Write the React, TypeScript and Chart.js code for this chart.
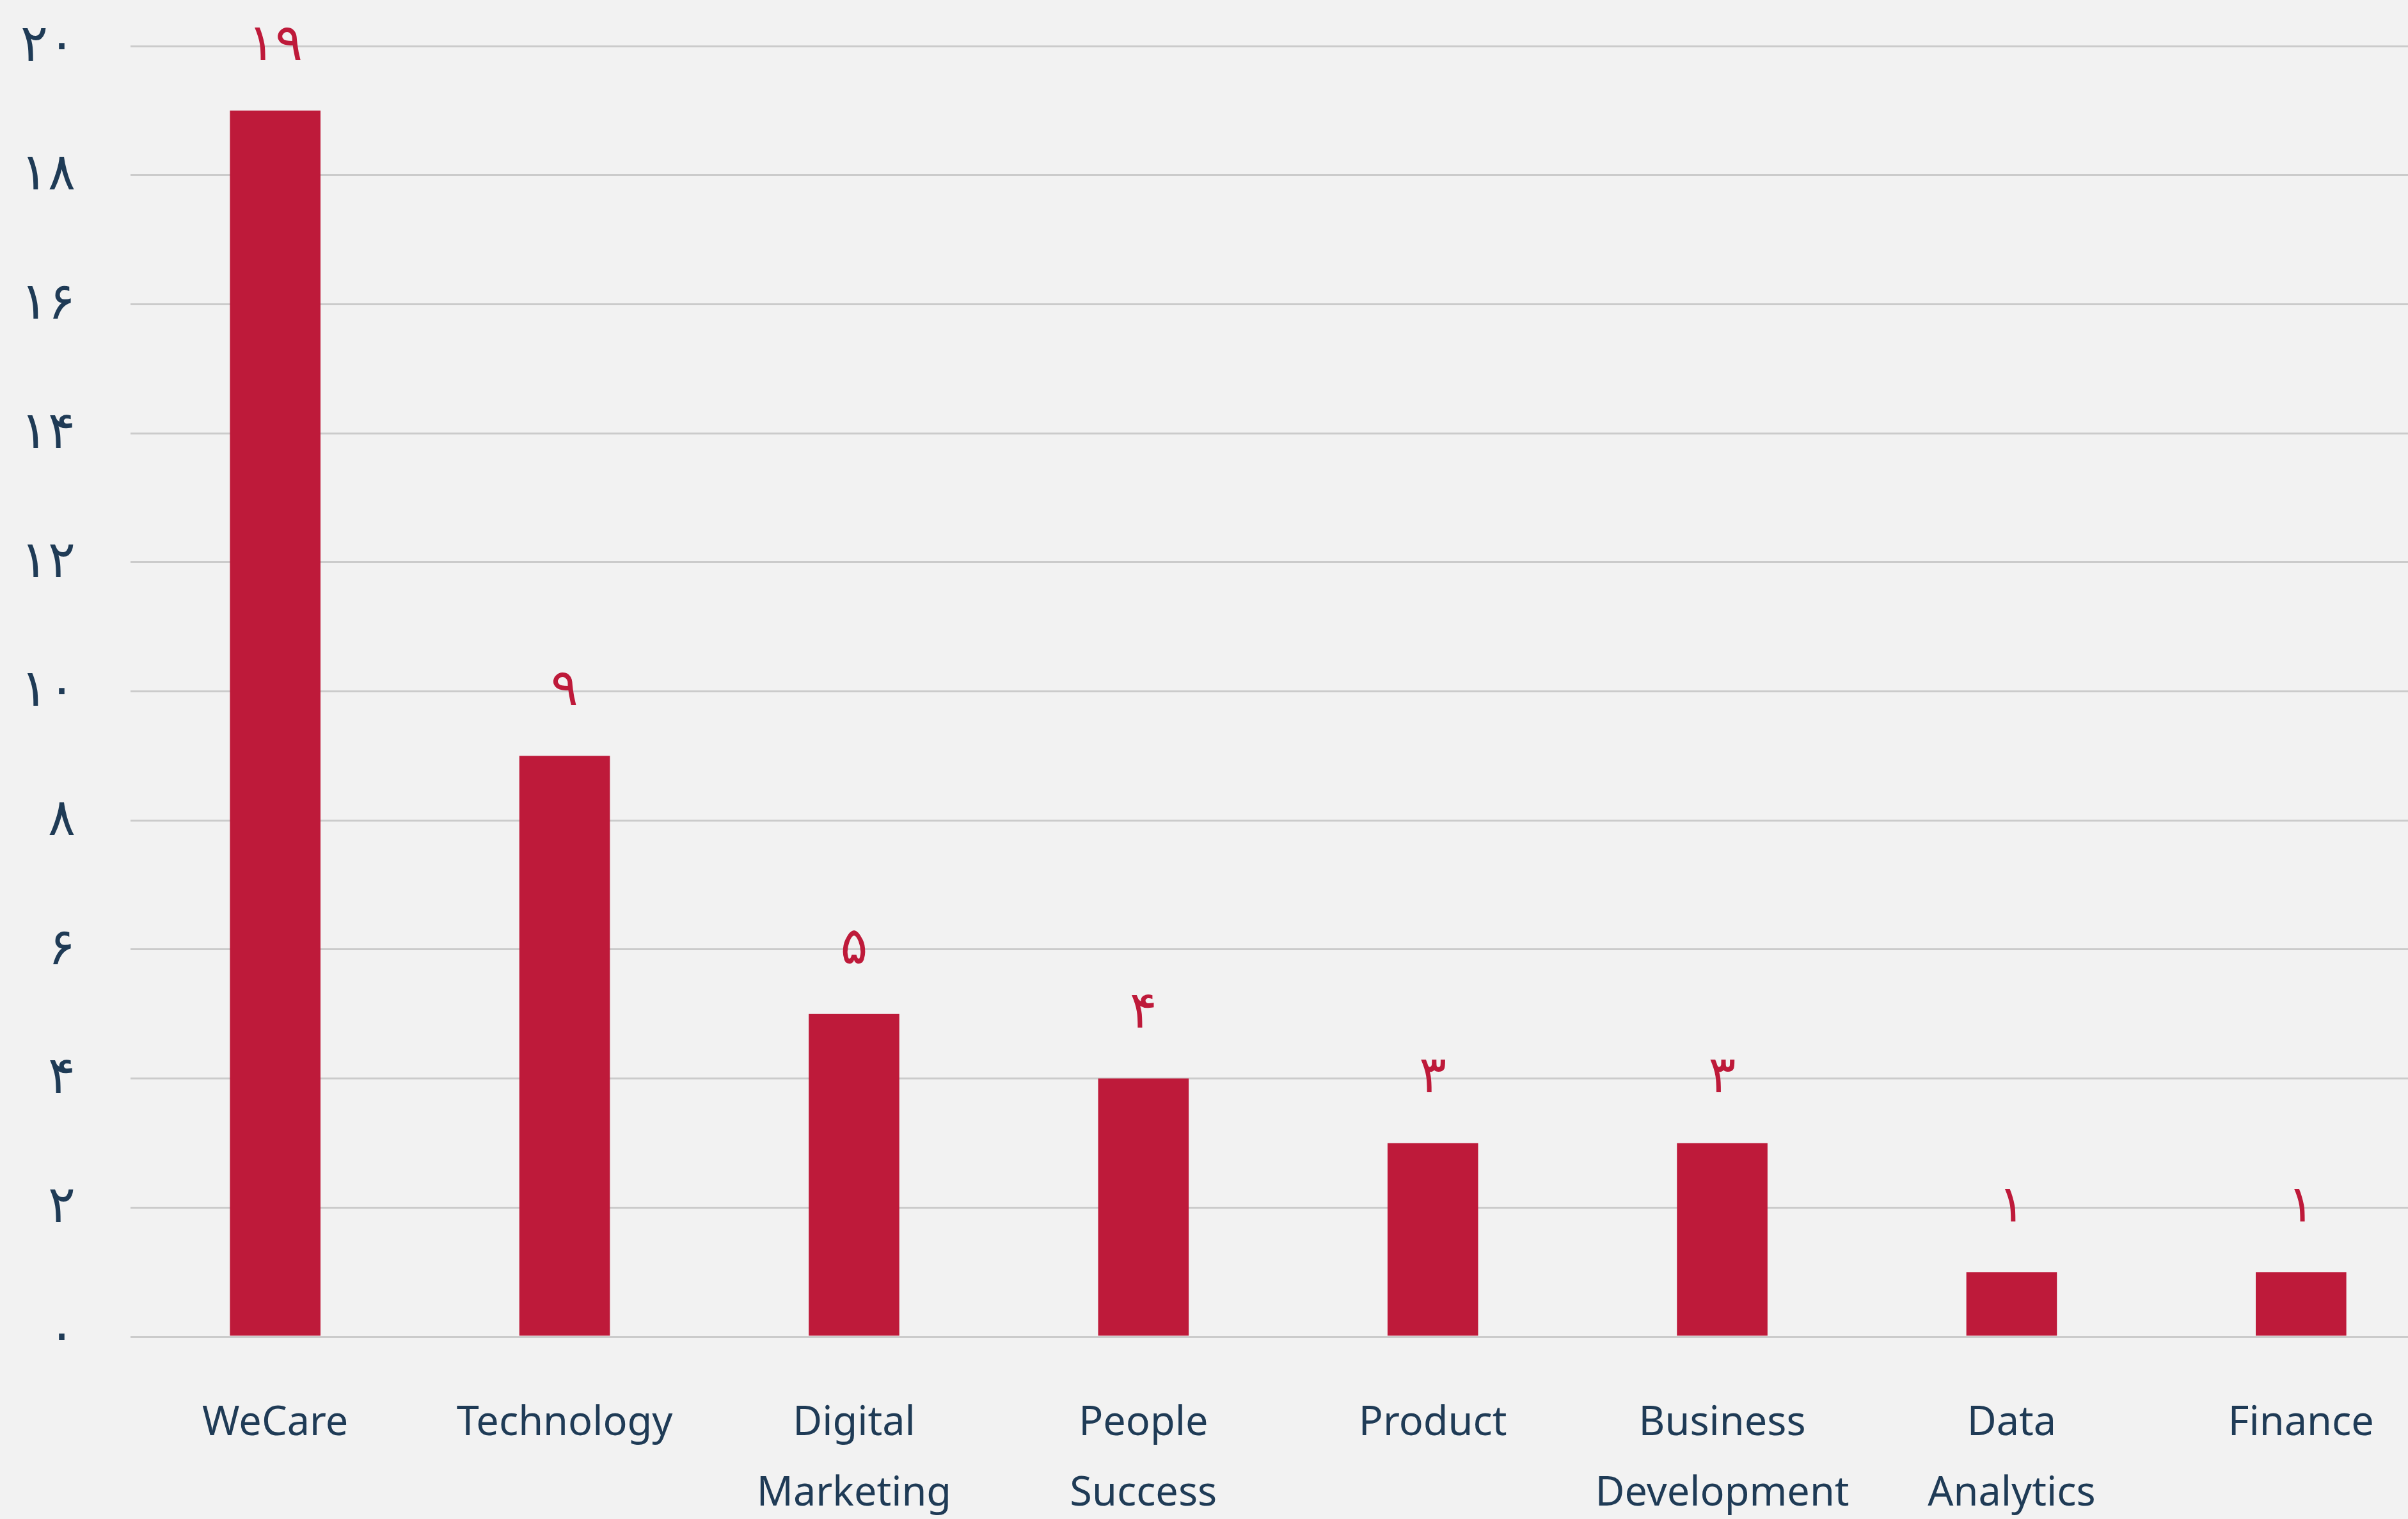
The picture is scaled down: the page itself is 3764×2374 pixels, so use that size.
import React, { useEffect, useRef } from "react";
import { Chart, registerables } from "chart.js";

Chart.register(...registerables);

const categories: (string | string[])[] = [
  "WeCare",
  "Technology",
  ["Digital", "Marketing"],
  ["People", "Success"],
  "Product",
  ["Business", "Development"],
  ["Data", "Analytics"],
  "Finance",
];
const values: number[] = [19, 9, 5, 4, 3, 3, 1, 1];
const yMin = 0;
const yMax = 20;
const yStep = 2;

const persianDigits = ["۰", "۱", "۲", "۳", "۴", "۵", "۶", "۷", "۸", "۹"];
const toPersian = (n: number | string) =>
  String(n).replace(/[0-9]/g, (d) => persianDigits[Number(d)]);

const FONT = '"Noto Sans", "DejaVu Sans", sans-serif';
const BAR = "#be1a3a";
const TEXT = "#1f3b56";

const CANVAS_W = 3823;
const CANVAS_H = 2374;

export default function App() {
  const ref = useRef<HTMLCanvasElement | null>(null);

  useEffect(() => {
    if (!ref.current) return;
    const valueLabels = {
      id: "valueLabels",
      afterDatasetsDraw(chart: any) {
        const ctx = chart.ctx;
        const meta = chart.getDatasetMeta(0);
        ctx.save();
        ctx.fillStyle = BAR;
        ctx.font = `80px ${FONT}`;
        ctx.textAlign = "center";
        ctx.textBaseline = "middle";
        meta.data.forEach((el: any, i: number) => {
          ctx.fillText(toPersian(values[i]), el.x, el.y - 102);
        });
        ctx.restore();
      },
    };
    const chart = new Chart(ref.current, {
      type: "bar",
      data: {
        labels: categories as any,
        datasets: [
          {
            data: values,
            backgroundColor: BAR,
            borderWidth: 0,
            barPercentage: 0.313,
            categoryPercentage: 1,
          },
        ],
      },
      options: {
        responsive: false,
        animation: false,
        devicePixelRatio: 1,
        layout: { padding: { top: 72, left: 0, right: 0, bottom: 0 } },
        plugins: {
          legend: { display: false },
          tooltip: { enabled: false },
        },
        scales: {
          x: {
            grid: { display: false, drawTicks: false },
            border: { display: false },
            ticks: {
              color: TEXT,
              font: { family: FONT, size: 63, lineHeight: 1.75 },
              padding: 81,
              maxRotation: 0,
              autoSkip: false,
            },
            afterFit(scale: any) {
              scale.height = 285;
              scale.paddingLeft = 0;
              scale.paddingRight = 0;
            },
          },
          y: {
            min: yMin,
            max: yMax,
            grid: { color: "#cbcbcb", lineWidth: 3, drawTicks: false },
            border: { display: false },
            ticks: {
              stepSize: yStep,
              color: TEXT,
              font: { family: FONT, size: 80 },
              padding: 86,
              callback: (v: any) => toPersian(v),
            },
            afterFit(scale: any) {
              scale.width = 204;
              scale.paddingTop = 0;
              scale.paddingBottom = 0;
            },
          },
        },
      },
      plugins: [valueLabels],
    });
    return () => chart.destroy();
  }, []);

  return (
    <div
      style={{
        position: "absolute",
        top: 0,
        left: 0,
        width: 3764,
        height: 2374,
        overflow: "hidden",
        background: "#f2f2f2",
      }}
    >
      <canvas
        ref={ref}
        width={CANVAS_W}
        height={CANVAS_H}
        style={{ width: CANVAS_W, height: CANVAS_H, display: "block" }}
      />
    </div>
  );
}
